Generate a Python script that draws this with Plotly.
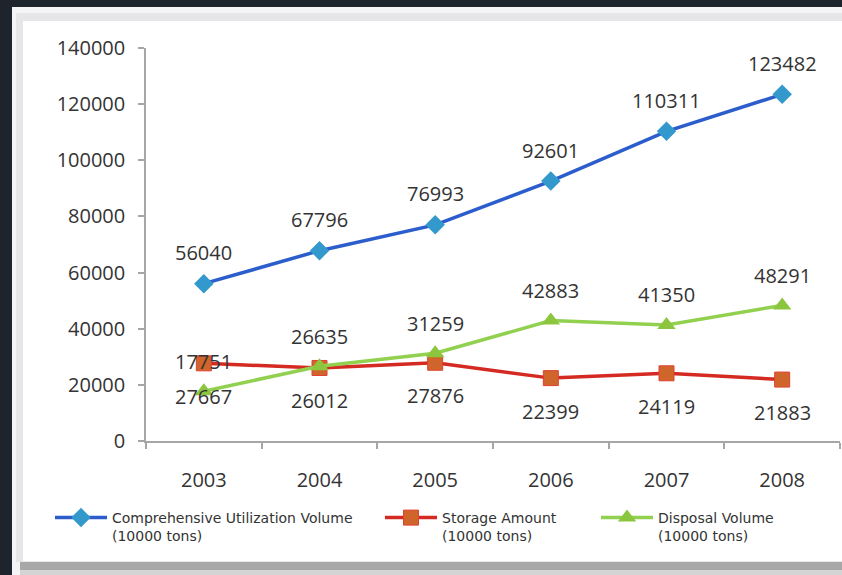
import plotly.graph_objects as go

years = ["2003", "2004", "2005", "2006", "2007", "2008"]
utilization = [56040, 67796, 76993, 92601, 110311, 123482]
storage = [27667, 26012, 27876, 22399, 24119, 21883]
disposal = [17751, 26635, 31259, 42883, 41350, 48291]
y_ticks = [0, 20000, 40000, 60000, 80000, 100000, 120000, 140000]

names = ["Comprehensive Utilization Volume<br>(10000 tons)",
         "Storage Amount<br>(10000 tons)",
         "Disposal Volume<br>(10000 tons)"]

W, H = 842, 575
L, R, T, B = 146, 2, 48, 134
PW, PH = W - L - R, H - T - B


def px(x):
    return (x - L) / PW


def py(y):
    return (H - B - y) / PH


fig = go.Figure()

fig.add_trace(go.Scatter(
    x=years, y=utilization, name=names[0], mode="lines+markers", legend="legend",
    line=dict(color="#2C5DCD", width=3.5),
    marker=dict(symbol="diamond", size=15, color="#3399CC", line=dict(width=0)),
))
fig.add_trace(go.Scatter(
    x=years, y=storage, name=names[1], mode="lines+markers", legend="legend2",
    line=dict(color="#D42A22", width=3.5),
    marker=dict(symbol="square", size=15, color="#D0652C", line=dict(width=1, color="#E04030")),
))
fig.add_trace(go.Scatter(
    x=years, y=disposal, name=names[2], mode="lines+markers", legend="legend3",
    line=dict(color="#92D050", width=3.5),
    marker=dict(symbol="triangle-up", size=16, color="#8CC63F", line=dict(width=0)),
))

annotations = []
for vals, shift in ((utilization, 31), (disposal, 30), (storage, -33)):
    for i, v in enumerate(vals):
        annotations.append(dict(
            x=i, y=v, xref="x", yref="y", text=str(v), showarrow=False, yshift=shift,
            font=dict(family="Open Sans", size=20, color="#333333"),
        ))

shapes = [
    dict(type="rect", xref="paper", yref="paper", x0=px(12), x1=px(860),
         y0=py(575), y1=py(7), fillcolor="#F4F4F6", line=dict(width=0), layer="below"),
    dict(type="rect", xref="paper", yref="paper", x0=px(20), x1=px(860),
         y0=py(570), y1=py(558), fillcolor="#A8A8A8", line=dict(width=0), layer="below"),
    dict(type="rect", xref="paper", yref="paper", x0=px(20), x1=px(860),
         y0=py(575), y1=py(570), fillcolor="#D4D4D4", line=dict(width=0), layer="below"),
    dict(type="rect", xref="paper", yref="paper", x0=px(16), x1=px(860),
         y0=py(562), y1=py(13), fillcolor="#E6E6E8", line=dict(width=0), layer="below"),
    dict(type="rect", xref="paper", yref="paper", x0=px(23), x1=px(860),
         y0=py(561), y1=py(21), fillcolor="#FFFFFF", line=dict(width=0), layer="below"),
]

legend_font = dict(family="DejaVu Sans", size=14, color="#333333")


def legend_at(xpix):
    return dict(
        orientation="h", x=px(xpix), xanchor="left", y=py(502), yanchor="top",
        font=legend_font, bgcolor="rgba(0,0,0,0)", valign="top", itemwidth=52,
    )


fig.update_layout(
    width=W, height=H,
    margin=dict(l=L, r=R, t=T, b=B, pad=0),
    paper_bgcolor="#1E242B",
    plot_bgcolor="rgba(0,0,0,0)",
    shapes=shapes,
    annotations=annotations,
    showlegend=True,
    legend=legend_at(50),
    legend2=legend_at(380),
    legend3=legend_at(596),
    xaxis=dict(
        type="category", range=[-0.5, 5.5], showgrid=False, zeroline=False,
        showline=True, linecolor="#A6A6A6", linewidth=1.5,
        ticks="outside", ticklen=6, tickcolor="#A6A6A6", tickwidth=1.5,
        tickson="boundaries",
        tickfont=dict(family="Open Sans", size=20, color="#333333"),
        ticklabelstandoff=20,
    ),
    yaxis=dict(
        range=[0, 140000], tickvals=y_ticks, ticktext=[str(v) for v in y_ticks],
        showgrid=False, zeroline=False,
        showline=True, linecolor="#A6A6A6", linewidth=1.5,
        ticks="outside", ticklen=6, tickcolor="#A6A6A6", tickwidth=1.5,
        tickfont=dict(family="Open Sans", size=20, color="#333333"),
        ticklabelstandoff=9,
    ),
)

fig.write_html("out.html", config={"displayModeBar": False},
               post_script="document.body.style.margin='0';document.body.style.background='#1E242B';")
